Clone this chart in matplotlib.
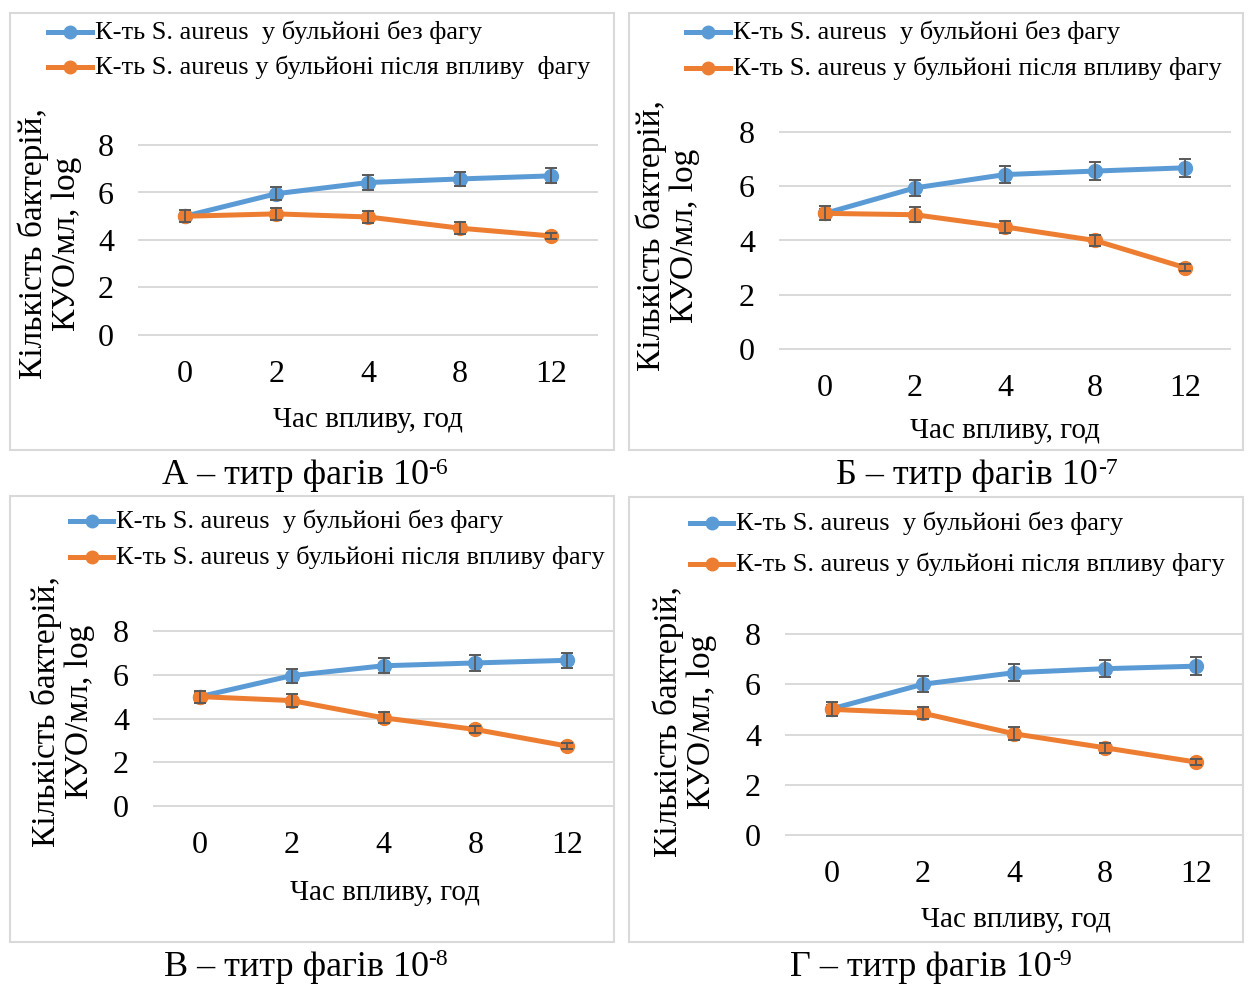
import matplotlib
matplotlib.use("Agg")
import matplotlib.pyplot as plt
from matplotlib.lines import Line2D
from matplotlib.patches import Rectangle

plt.rcParams['font.family'] = ['Liberation Serif', 'DejaVu Serif']

# time of exposure, hours
hours = ['0', '2', '4', '8', '12']

# S. aureus in broth without phage (log CFU/ml)
control_a = [5.0, 5.95, 6.42, 6.57, 6.7]
control_b = [5.0, 5.94, 6.43, 6.56, 6.68]
control_c = [5.0, 5.96, 6.41, 6.54, 6.66]
control_d = [5.02, 6.0, 6.46, 6.62, 6.72]
control_err_a = [0.15, 0.28, 0.3, 0.3, 0.32]
control_err_b = [0.15, 0.3, 0.32, 0.33, 0.34]
control_err_c = [0.15, 0.32, 0.34, 0.35, 0.35]
control_err_d = [0.15, 0.32, 0.33, 0.35, 0.37]

# S. aureus in broth after phage exposure (log CFU/ml)
phage_a = [5.0, 5.1, 4.97, 4.5, 4.17]
phage_b = [5.0, 4.95, 4.5, 4.0, 3.0]
phage_c = [5.0, 4.82, 4.03, 3.5, 2.74]
phage_d = [5.0, 4.85, 4.03, 3.47, 2.9]
phage_err_a = [0.25, 0.25, 0.25, 0.24, 0.12]
phage_err_b = [0.26, 0.28, 0.23, 0.2, 0.12]
phage_err_c = [0.28, 0.28, 0.25, 0.18, 0.12]
phage_err_d = [0.28, 0.25, 0.25, 0.2, 0.12]

legend_a = ['К-ть S. aureus  у бульйоні без фагу', 'К-ть S. aureus у бульйоні після впливу  фагу']
legend_b = ['К-ть S. aureus  у бульйоні без фагу', 'К-ть S. aureus у бульйоні після впливу фагу']
caption_text = ['А – титр фагів 10', 'Б – титр фагів 10', 'В – титр фагів 10', 'Г – титр фагів 10']
caption_exp = ['-6', '-7', '-8', '-9']
ylabel = 'Кількість бактерій,\nКУО/мл, log'
xlabel = 'Час впливу, год'

BLUE = '#5b9bd5'
ORANGE = '#ed7d31'
GRID = '#d9d9d9'
W, H = 1248, 988


def fx(x):
    return x / W


def fy(y):
    return 1 - y / H


fig = plt.figure(figsize=(W / 100, H / 100), dpi=100)

# layout in pixels: box, plot area (x0, x1, y8, y0), legend (handle x0, x1, row y's),
# y label centre, x label centre, caption centre
panels = [
    dict(box=(10, 13, 614, 450), area=(139, 597, 145, 335), leg=(48, 92, 32, 67),
         ylab=(50, 244), xlab=(368, 420), cap=(304, 476),
         ctrl=control_a, ctrl_err=control_err_a, ph=phage_a, ph_err=phage_err_a, legend=legend_a),
    dict(box=(629, 13, 1243, 450), area=(780, 1230, 132, 349), leg=(686, 730, 32, 68),
         ylab=(668, 236), xlab=(1005, 431), cap=(976, 476),
         ctrl=control_b, ctrl_err=control_err_b, ph=phage_b, ph_err=phage_err_b, legend=legend_b),
    dict(box=(10, 496, 614, 942), area=(154, 613, 631, 806), leg=(70, 113, 521, 557),
         ylab=(63, 712), xlab=(385, 893), cap=(305, 967),
         ctrl=control_c, ctrl_err=control_err_c, ph=phage_c, ph_err=phage_err_c, legend=legend_b),
    dict(box=(629, 497, 1243, 942), area=(786, 1242, 634, 835), leg=(690, 733, 523, 564),
         ylab=(685, 722), xlab=(1016, 920), cap=(930, 967),
         ctrl=control_d, ctrl_err=control_err_d, ph=phage_d, ph_err=phage_err_d, legend=legend_b),
]

for i, p in enumerate(panels):
    bx0, by0, bx1, by1 = p['box']
    fig.add_artist(Rectangle((fx(bx0), fy(by1)), (bx1 - bx0) / W, (by1 - by0) / H,
                             transform=fig.transFigure, fill=False, ec=GRID, lw=1.5))

    x0, x1, y8, y0 = p['area']
    ax = fig.add_axes([fx(x0), fy(y0), (x1 - x0) / W, (y0 - y8) / H])
    xs = range(len(hours))
    ax.plot(xs, p['ctrl'], color=BLUE, lw=3.6, marker='o', ms=10, zorder=3)
    ax.errorbar(xs, p['ctrl'], yerr=p['ctrl_err'], fmt='none', ecolor='#595959',
                elinewidth=1.3, capsize=4, capthick=1.4, zorder=4)
    ax.plot(xs, p['ph'], color=ORANGE, lw=3.6, marker='o', ms=10, zorder=5)
    ax.errorbar(xs, p['ph'], yerr=p['ph_err'], fmt='none', ecolor='#595959',
                elinewidth=1.3, capsize=4, capthick=1.4, zorder=6)

    ax.set_xlim(-0.5, len(hours) - 0.5)
    ax.set_ylim(0, 8)
    ax.set_yticks([0, 2, 4, 6, 8])
    ax.set_xticks(list(xs))
    ax.set_xticklabels(hours)
    ax.grid(axis='y', color=GRID, lw=1.4)
    ax.set_axisbelow(True)
    for gl in ax.get_ygridlines():
        gl.set_clip_on(False)
    for s in ax.spines.values():
        s.set_visible(False)
    ax.tick_params(length=0, labelsize=23, pad=18)
    ax.set_facecolor('none')

    # legend drawn by hand so the rows sit where they do in the source
    lx0, lx1, ry1, ry2 = p['leg']
    for color, ry, label in [(BLUE, ry1, p['legend'][0]), (ORANGE, ry2, p['legend'][1])]:
        fig.add_artist(Line2D([fx(lx0), fx(lx1)], [fy(ry), fy(ry)], transform=fig.transFigure,
                              color=color, lw=3.6))
        fig.add_artist(Line2D([fx((lx0 + lx1) / 2)], [fy(ry)], transform=fig.transFigure,
                              color=color, marker='o', ms=9))
        fig.text(fx(lx1 + 3), fy(ry), label, fontsize=19, va='center', ha='left')

    fig.text(fx(p['ylab'][0]), fy(p['ylab'][1]), ylabel, rotation=90, fontsize=24,
             ha='center', va='center', multialignment='center', linespacing=1.1)
    fig.text(fx(p['xlab'][0]), fy(p['xlab'][1]), xlabel, fontsize=21, ha='center', va='center')

    # caption with the exponent raised like a superscript
    cap = fig.text(fx(p['cap'][0] - 9), fy(p['cap'][1]), caption_text[i], fontsize=26,
                   ha='center', va='center')
    plt.annotate(caption_exp[i], xy=(1.0, 1.06), xycoords=cap, fontsize=17,
                 ha='left', va='top', annotation_clip=False)

plt.savefig('out.png', dpi=100)
